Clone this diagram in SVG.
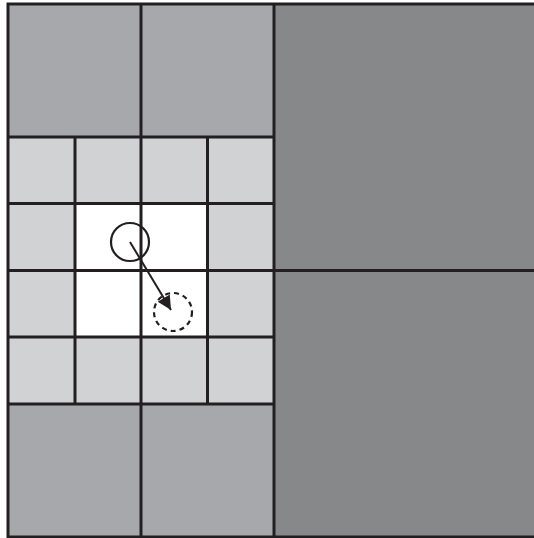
<svg xmlns="http://www.w3.org/2000/svg" width="534" height="538" viewBox="0 0 534 538">
<defs>
<style>
.big{fill:#a7a8ab}
.small{fill:#d1d2d4}
.center{fill:#ffffff}
.dark{fill:#87888a}
.ln{stroke:#231f20;stroke-width:3;fill:none}
.circ{stroke:#231f20;stroke-width:2.2;fill:none}
</style>
<marker id="ah" viewBox="0 0 10 10" refX="10" refY="5" markerWidth="8.5" markerHeight="7" markerUnits="strokeWidth" orient="auto">
<path d="M0,0 L10,5 L0,10 z" fill="#231f20"/>
</marker>
</defs>
<rect x="0" y="0" width="534" height="538" fill="#ffffff"/>
<g id="cells">
<rect id="right-top" class="dark" x="274" y="4" width="262" height="266"/>
<rect id="right-bottom" class="dark" x="274" y="270" width="262" height="268"/>
<rect id="big-tl" class="big" x="8" y="4" width="133" height="133"/>
<rect id="big-tr" class="big" x="141" y="4" width="133" height="133"/>
<rect id="big-bl" class="big" x="8" y="404" width="133" height="133"/>
<rect id="big-br" class="big" x="141" y="404" width="133" height="133"/>
<rect class="small" x="8" y="137" width="266" height="267"/>
<rect class="center" x="75" y="203" width="133" height="134"/>
</g>
<g id="grid">
<rect class="ln" x="8" y="4" width="530" height="533"/>
<line class="ln" x1="274" y1="4" x2="274" y2="537"/>
<line class="ln" x1="274" y1="270.5" x2="534" y2="270.5"/>
<line class="ln" x1="141" y1="4" x2="141" y2="537"/>
<line class="ln" x1="75" y1="137" x2="75" y2="404"/>
<line class="ln" x1="207.5" y1="137" x2="207.5" y2="404"/>
<line class="ln" x1="8" y1="137" x2="274" y2="137"/>
<line class="ln" x1="8" y1="203.5" x2="274" y2="203.5"/>
<line class="ln" x1="8" y1="270.5" x2="274" y2="270.5"/>
<line class="ln" x1="8" y1="337" x2="274" y2="337"/>
<line class="ln" x1="8" y1="404" x2="274" y2="404"/>
</g>
<g id="circle-start"><circle class="circ" cx="130" cy="242" r="19"/></g>
<g id="circle-end"><circle class="circ" cx="173" cy="312" r="19" stroke-dasharray="5,4"/></g>
<g id="connectors">
<line x1="130" y1="242" x2="171" y2="310" stroke="#231f20" stroke-width="2" marker-end="url(#ah)"/>
</g>
</svg>
